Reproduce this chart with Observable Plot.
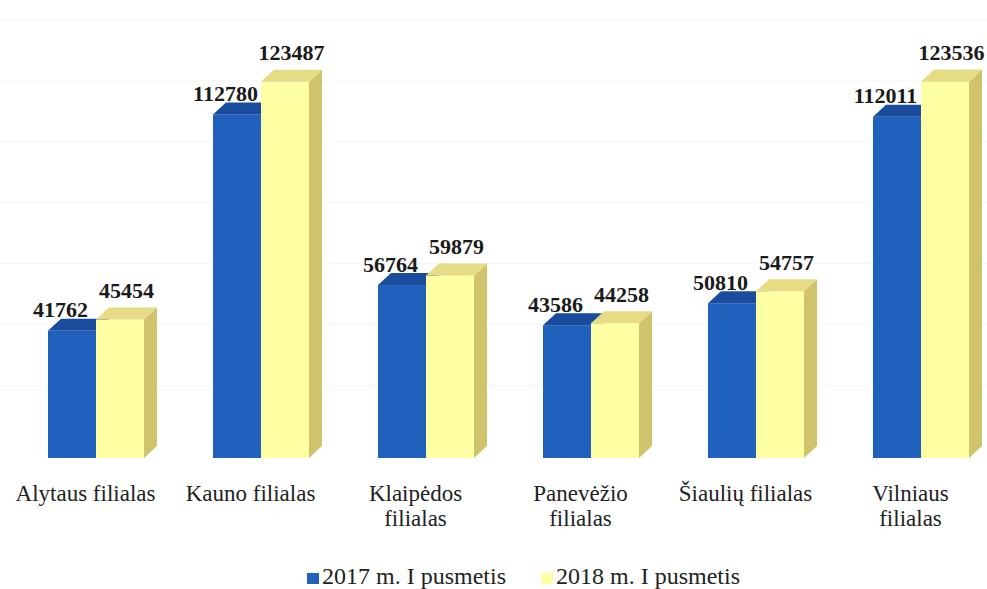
<!DOCTYPE html>
<html>
<head>
<meta charset="utf-8">
<script src="https://cdn.jsdelivr.net/npm/d3@7"></script>
<script src="https://cdn.jsdelivr.net/npm/@observablehq/plot@0.6"></script>
<style>
  html, body { margin: 0; padding: 0; background: #fff; }
  #chart { width: 987px; }
  .legend { display: flex; align-items: center; margin-left: 307px; height: 31px; padding-top: 3px;
    font-family: "Liberation Serif", "DejaVu Serif", serif; font-size: 24px; color: #222; line-height: 31px; }
  .legend .sw { width: 12px; height: 11px; display: inline-block; margin-right: 3px; margin-top: 3px; }
  .legend .item { display: flex; align-items: center; margin-right: 35px; }
</style>
</head>
<body>
<div id="chart"></div>
<script>
const categories = ["Alytaus filialas", "Kauno filialas", "Klaipėdos filialas", "Panevėžio filialas", "Šiaulių filialas", "Vilniaus filialas"];
const tickLabels = ["Alytaus filialas", "Kauno filialas", "Klaipėdos\nfilialas", "Panevėžio\nfilialas", "Šiaulių filialas", "Vilniaus\nfilialas"];
const series = ["2017 m. I pusmetis", "2018 m. I pusmetis"];
const values2017 = [41762, 112780, 56764, 43586, 50810, 112011];
const values2018 = [45454, 123487, 59879, 44258, 54757, 123536];

const frontColors = ["#2161BE", "#FFFFA3"];
const topColors = ["#1A4C9E", "#E6DC86"];
const sideColors = ["#17438C", "#CFC46C"];
const SERIF = "Liberation Serif";

const rows = [];
[values2017, values2018].forEach((vals, s) => {
  vals.forEach((v, i) => rows.push({i, cat: categories[i], series: series[s], s, value: v}));
});

// geometry (category units / value units)
const STEP = 165;
const W = 48 / STEP;
const OFF = -37 / STEP;
const D = 13 / STEP;
const PXV = 376 / 123487;
const R = 12 / PXV;

const xL = d => d.i + OFF + d.s * W;
const xR = d => xL(d) + W;

function sideFaces(rs) {
  return rs.flatMap(d => [
    {key: d.cat, x: xR(d), y1: 0, y2: d.value},
    {key: d.cat, x: xR(d) + D, y1: R, y2: d.value + R}
  ]);
}
function topFaces(rs) {
  return rs.flatMap(d => [
    {key: d.cat, x: xL(d), y1: d.value, y2: d.value},
    {key: d.cat, x: xL(d) + D, y1: d.value, y2: d.value + R},
    {key: d.cat, x: xR(d), y1: d.value, y2: d.value + R},
    {key: d.cat, x: xR(d) + D, y1: d.value + R, y2: d.value + R}
  ]);
}

const r0 = rows.filter(d => d.s === 0);
const r1 = rows.filter(d => d.s === 1);

function seriesMarks(rs, s) {
  return [
    Plot.areaY(sideFaces(rs), {x: "x", y1: "y1", y2: "y2", z: "key", fill: sideColors[s]}),
    Plot.rect(rs, {x1: xL, x2: xR, y1: 0, y2: "value", fill: frontColors[s]}),
    Plot.areaY(topFaces(rs), {x: "x", y1: "y1", y2: "y2", z: "key", fill: topColors[s]})
  ];
}

const plot = Plot.plot({
  width: 987,
  height: 558,
  marginLeft: 0,
  marginRight: 0,
  marginTop: 1,
  marginBottom: 100,
  style: {fontFamily: SERIF, color: "#222", background: "#fff"},
  x: {domain: [-85 / STEP, (987 - 85) / STEP], axis: null, label: null},
  y: {domain: [0, 150000], axis: null, label: null},
  marks: [
    Plot.ruleY(d3.range(20000, 160000, 20000), {stroke: "#f5f5f5", dy: -12}),
    ...seriesMarks(r0, 0),
    ...seriesMarks(r1, 1),
    Plot.axisX({
      ticks: d3.range(categories.length),
      tickFormat: i => tickLabels[i],
      tickSize: 0,
      tickPadding: 25,
      fontSize: 23,
      fontFamily: SERIF,
      lineHeight: 1.09,
      label: null
    }),
    Plot.text(r0, {x: d => (xL(d) + xR(d)) / 2, y: "value", text: d => String(d.value),
      dx: -12, dy: -14, lineAnchor: "bottom", fontSize: 22, fontWeight: "bold", fontFamily: SERIF, fill: "#1a1a1a"}),
    Plot.text(r1, {x: d => (xL(d) + xR(d)) / 2, y: "value", text: d => String(d.value),
      dx: 6, dy: -22, lineAnchor: "bottom", fontSize: 22, fontWeight: "bold", fontFamily: SERIF, fill: "#1a1a1a"})
  ]
});
document.getElementById("chart").appendChild(plot);

const legend = document.createElement("div");
legend.className = "legend";
series.forEach((name, s) => {
  const item = document.createElement("span");
  item.className = "item";
  const sw = document.createElement("span");
  sw.className = "sw";
  sw.style.background = frontColors[s];
  const label = document.createElement("span");
  label.textContent = name;
  item.appendChild(sw);
  item.appendChild(label);
  legend.appendChild(item);
});
document.getElementById("chart").appendChild(legend);
</script>
</body>
</html>
